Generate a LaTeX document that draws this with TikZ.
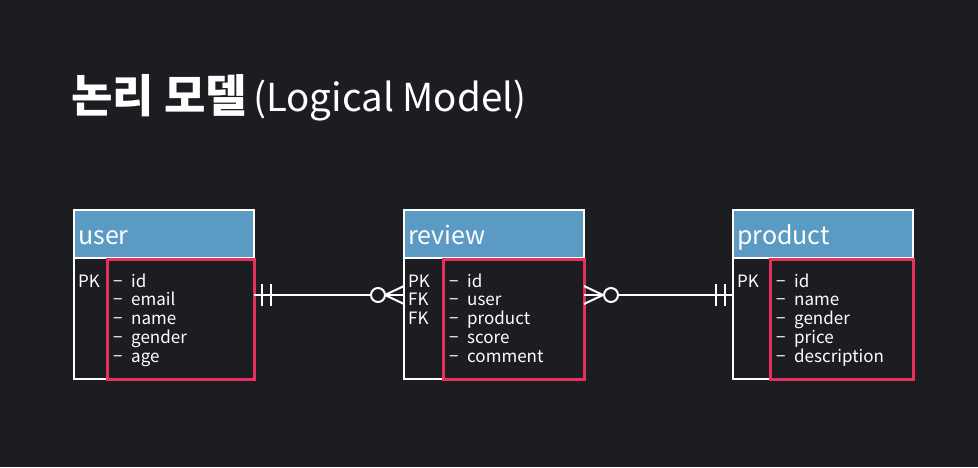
\documentclass[tikz,border=0pt]{standalone}
\usepackage{fontspec}
\setmainfont{Noto Sans CJK KR}
\definecolor{bg}{HTML}{1C1D21}
\definecolor{hdr}{HTML}{5B9AC3}
\definecolor{keyred}{HTML}{E8305F}
\newcommand\fld[1]{\makebox[18pt][l]{−}#1}
\begin{document}
\begin{tikzpicture}[x=1pt,y=-1pt,
  frame/.style={draw=white, line width=2pt, inner sep=0pt, outer sep=0pt, anchor=north west, minimum width=180pt, minimum height=169pt},
  head/.style={draw=white, fill=hdr, line width=2pt, inner sep=0pt, outer sep=0pt, anchor=north west, minimum width=180pt, minimum height=48pt},
  redbox/.style={draw=keyred, line width=3pt, inner sep=0pt, outer sep=0pt, anchor=north west, minimum height=120pt},
  htext/.style={text=white, font=\fontsize{25}{30}\selectfont, anchor=base west, inner sep=0pt},
  ftext/.style={text=white, font=\fontsize{17}{20}\selectfont, anchor=base west, inner sep=0pt},
  conn/.style={draw=white, line width=2pt}]
\fill[bg] (0,0) rectangle (978,467);
\useasboundingbox (0,0) rectangle (978,467);

% title
\node[anchor=base west, inner sep=0pt, text=white, font=\fontsize{45}{50}\selectfont\bfseries] (title) at (71,112) {논리 모델};
\node[anchor=base west, inner sep=0pt, text=white, font=\fontsize{38.5}{42}\selectfont] (subtitle) at (253,111) {(Logical Model)};

% user
\node[frame] (user) at (74,210) {};
\node[head] (userhead) at (74,210) {};
\node[htext] (usertitle) at (78,244) {user};
\node[redbox, minimum width=147pt] (userkeys) at (107,259) {};
\node[ftext] (upk) at (78,287) {PK};
\foreach \t [count=\i from 0] in {id,email,name,gender,age}
  \node[ftext] (uf\i) at (113,287+18.75*\i) {\fld{\t}};

% review
\node[frame] (review) at (404,210) {};
\node[head] (reviewhead) at (404,210) {};
\node[htext] (reviewtitle) at (408,244) {review};
\node[redbox, minimum width=141pt] (reviewkeys) at (443,259) {};
\node[ftext] (rpk) at (408,287) {PK};
\node[ftext] (rfk1) at (408,305.75) {FK};
\node[ftext] (rfk2) at (408,324.5) {FK};
\foreach \t [count=\i from 0] in {id,user,product,score,comment}
  \node[ftext] (rf\i) at (449,287+18.75*\i) {\fld{\t}};

% product
\node[frame] (product) at (733,210) {};
\node[head] (producthead) at (733,210) {};
\node[htext] (producttitle) at (737,244) {product};
\node[redbox, minimum width=143pt] (productkeys) at (770,259) {};
\node[ftext] (ppk) at (737,287) {PK};
\foreach \t [count=\i from 0] in {id,name,gender,price,description}
  \node[ftext] (pf\i) at (776,287+18.75*\i) {\fld{\t}};

% user -- review (one and only one  to  zero or many)
\path (userkeys.north east) ++(0,36) coordinate (ur);
\path (review.north west) ++(0,85) coordinate (rl);
\draw[conn] (ur) -- (rl);
\draw[conn] (ur) ++(8,-11) -- ++(0,22);
\draw[conn] (ur) ++(17,-11) -- ++(0,22);
\draw[conn] (rl) ++(-19,0) -- ++(19,-9);
\draw[conn] (rl) ++(-19,0) -- ++(19,9);
\draw[conn, fill=bg] (rl) ++(-26,0) circle[radius=7];

% review -- product
\path (reviewkeys.north east) ++(0,36) coordinate (rr);
\path (product.north west) ++(0,85) coordinate (pl);
\draw[conn] (rr) -- (pl);
\draw[conn] (rr) ++(0,-9) -- ++(19,9);
\draw[conn] (rr) ++(0,9) -- ++(19,-9);
\draw[conn, fill=bg] (rr) ++(27,0) circle[radius=7];
\draw[conn] (pl) ++(-8,-11) -- ++(0,22);
\draw[conn] (pl) ++(-17,-11) -- ++(0,22);
\end{tikzpicture}
\end{document}
